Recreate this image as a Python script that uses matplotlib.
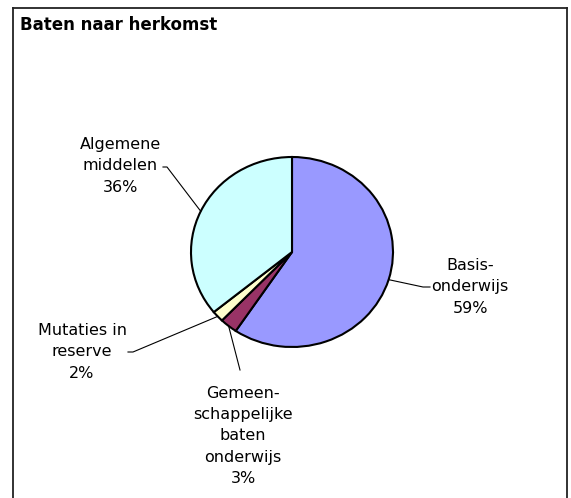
import numpy as np
import matplotlib
matplotlib.use("Agg")
import matplotlib.pyplot as plt
from matplotlib.lines import Line2D

# ---- data ----
categories = ["Basis-\nonderwijs", "Gemeen-\nschappelijke\nbaten\nonderwijs",
              "Mutaties in\nreserve", "Algemene\nmiddelen"]
values = [59.4, 2.8, 1.9, 35.9]
colors = ["#9999FF", "#993366", "#FFFFCC", "#CCFFFF"]
title = "Baten naar herkomst"

W, H = 571, 498
fig = plt.figure(figsize=(W / 100, H / 100), dpi=100)
plt.rcParams['font.family'] = ['DejaVu Sans']

# pie axes (pixel geometry of the reference)
cx, cy, rx, ry = 292, 252, 101, 95
ax = fig.add_axes([(cx - rx) / W, (H - (cy + ry)) / H, 2 * rx / W, 2 * ry / H])
wedges, _ = ax.pie(values, colors=colors, startangle=90, counterclock=False,
                   wedgeprops=dict(edgecolor="black", linewidth=1.5))
ax.set_aspect('auto')
ax.set_xlim(-1, 1)
ax.set_ylim(-1, 1)
ax.axis('off')

def px2d(px, py):
    return ((px - cx) / rx, (cy - py) / ry)

# label layout: (text center px, leader polyline end points px)
layout = [
    dict(text=(470, 287), path=[(423, 287), (430, 287)]),
    dict(text=(243, 436), path=[(240, 370)]),
    dict(text=(82, 352), path=[(133, 352), (128, 352)]),
    dict(text=(120, 166), path=[(167, 167), (163, 167)]),
]

total = sum(values)
for w, cat, v, lay in zip(wedges, categories, values, layout):
    mid = np.deg2rad((w.theta1 + w.theta2) / 2)
    pts = [(np.cos(mid), np.sin(mid))] + [px2d(*p) for p in lay['path']]
    xs, ys = zip(*pts)
    ax.add_line(Line2D(xs, ys, color="black", linewidth=0.8, clip_on=False))
    tx, ty = px2d(*lay['text'])
    ax.text(tx, ty, f"{cat}\n{round(v / total * 100):.0f}%", ha="center", va="center",
            fontsize=11.5, linespacing=1.52, color="black", clip_on=False)

# title
fig.text(20 / W, 1 - 25 / H, title, fontsize=12, fontweight="bold",
         ha="left", va="center")

# chart frame (open at bottom as in the reference)
L, T, R = 12.5 / W, 1 - 8.5 / H, 567 / W
fr = dict(color="#222222", linewidth=1.3, transform=fig.transFigure)
fig.add_artist(Line2D([L, L], [0, T], **fr))
fig.add_artist(Line2D([L, R], [T, T], **fr))
fig.add_artist(Line2D([R, R], [T, 0], **fr))

fig.savefig("out.png", dpi=100, facecolor="white")
